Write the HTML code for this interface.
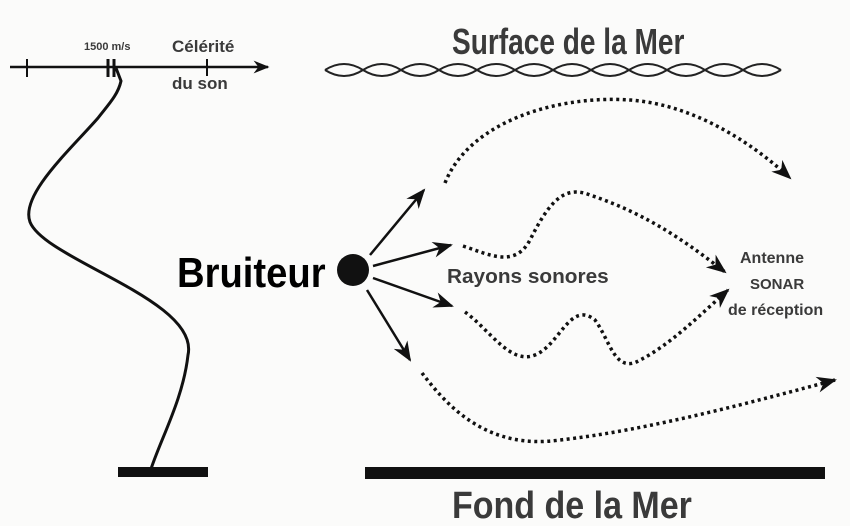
<!DOCTYPE html>
<html><head><meta charset="utf-8"><style>
body{margin:0;background:#fbfbfa;}
svg{display:block}
text{font-family:"Liberation Sans",sans-serif;font-weight:bold;fill:#3a3a3a}
</style></head><body>
<svg width="850" height="526" viewBox="0 0 850 526">
<defs>
<marker id="ah2" viewBox="0 0 10 10" refX="9" refY="5" markerWidth="16" markerHeight="16" orient="auto" markerUnits="userSpaceOnUse">
<path d="M0,1 L10,5 L0,9 L3,5z" fill="#111"/></marker>
<marker id="ah3" viewBox="0 0 10 10" refX="9" refY="5" markerWidth="20" markerHeight="20" orient="auto" markerUnits="userSpaceOnUse">
<path d="M0,1 L10,5 L0,9 L3,5z" fill="#111"/></marker>
</defs>
<line x1="10" y1="67" x2="268" y2="67" stroke="#111" stroke-width="2.5" marker-end="url(#ah2)"/>
<g stroke="#111" stroke-width="2"><line x1="27" y1="59" x2="27" y2="77"/><line x1="108" y1="59" x2="108" y2="77" stroke-width="3"/><line x1="114" y1="59" x2="114" y2="77" stroke-width="3"/><line x1="207" y1="59" x2="207" y2="76"/></g>
<text x="84" y="50" font-size="11">1500 m/s</text>
<text x="172" y="52" font-size="17">Célérité</text>
<text x="172" y="89" font-size="17">du son</text>
<path d="M116,68 L121,81 C118,95 108,105 98,118 C70,150 20,195 30,222 C45,260 200,300 188,355 C183,400 160,440 150,472" fill="none" stroke="#111" stroke-width="3"/>
<rect x="118" y="467" width="90" height="10" fill="#111"/>
<rect x="365" y="467" width="460" height="12" fill="#111"/>
<text x="452" y="518" font-size="38" transform="translate(452 0) scale(0.895 1) translate(-452 0)">Fond de la Mer</text>
<text x="452" y="54" font-size="36" transform="translate(452 0) scale(0.78 1) translate(-452 0)">Surface de la Mer</text>
<path d="M325,70 q19,-12 38,0 t38,0 t38,0 t38,0 t38,0 t38,0 t38,0 t38,0 t38,0 t38,0 t38,0 t38,0" fill="none" stroke="#222" stroke-width="2"/>
<path d="M325,70 q19,12 38,0 t38,0 t38,0 t38,0 t38,0 t38,0 t38,0 t38,0 t38,0 t38,0 t38,0 t38,0" fill="none" stroke="#222" stroke-width="2"/>
<text x="177" y="287" font-size="42" style="fill:#000" transform="translate(177 0) scale(0.91 1) translate(-177 0)">Bruiteur</text>
<circle cx="353" cy="270" r="16" fill="#111"/>
<g stroke="#111" stroke-width="2.5" marker-end="url(#ah3)" fill="none">
<line x1="370" y1="255" x2="424" y2="190"/>
<line x1="373" y1="266" x2="451" y2="245"/>
<line x1="373" y1="278" x2="452" y2="306"/>
<line x1="367" y1="290" x2="410" y2="360"/>
</g>
<g stroke="#111" stroke-width="3.5" stroke-dasharray="3 3.5" fill="none" marker-end="url(#ah3)">
<path d="M445,183 C470,120 560,95 630,100 C700,105 760,150 790,178"/>
<path d="M463,246 C490,255 515,268 530,240 C550,200 565,185 590,195 C650,215 690,245 725,272"/>
<path d="M465,312 C490,330 510,365 535,355 C560,345 570,300 595,320 C610,340 615,375 640,360 C670,345 700,315 728,290"/>
<path d="M422,373 C450,410 490,450 560,440 C650,430 760,400 835,380"/>
</g>
<text x="447" y="283" font-size="20" transform="translate(447 0) scale(1.04 1) translate(-447 0)">Rayons sonores</text>
<text x="740" y="263" font-size="16">Antenne</text>
<text x="750" y="289" font-size="15">SONAR</text>
<text x="728" y="315" font-size="16">de réception</text>
</svg>
</body></html>
